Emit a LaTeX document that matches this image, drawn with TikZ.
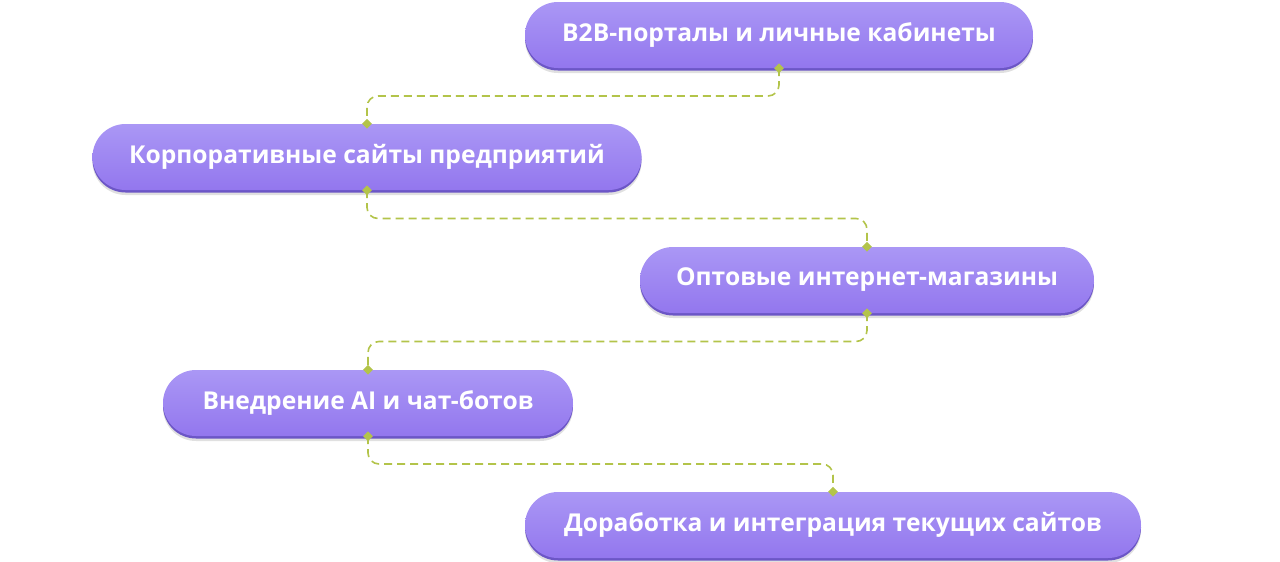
\documentclass[tikz,border=0pt]{standalone}
\usepackage{fontspec}
\setmainfont{Open Sans}
\usepackage{tikz}
\usetikzlibrary{arrows.meta,positioning,shapes.geometric,calc,shadows}
\usepackage{xcolor}
\definecolor{pilltop}{HTML}{AA97F5}
\definecolor{pillbot}{HTML}{9377EE}
\definecolor{pilledge}{HTML}{6C56C6}
\definecolor{link}{HTML}{B3C44A}

\begin{document}
\begin{tikzpicture}[x=1pt, y=-1pt,
  pill/.style={rounded corners=33pt, minimum height=66pt, inner xsep=0pt,
    top color=pilltop, bottom color=pillbot, text=white,
    font=\bfseries\fontsize{24.6}{28}\selectfont,
    drop shadow={shadow xshift=0pt, shadow yshift=-5pt, fill=black, opacity=.12},
    general shadow={shadow yshift=-2.5pt, fill=pilledge}},
  linkline/.style={draw=link, line width=1.6pt, dash pattern=on 8pt off 5pt, rounded corners=11pt},
  dot/.style={diamond, fill=link, inner sep=0pt, minimum size=10pt}]
  \useasboundingbox (0,0) rectangle (1280,562);

  % Directions
  \node[pill, minimum width=508pt] (b2b) at (779,35) {B2B-порталы и личные кабинеты};
  \node[pill, minimum width=549pt] (corp) at (367,157) {Корпоративные сайты предприятий};
  \node[pill, minimum width=454pt] (shop) at (867,280) {Оптовые интернет-магазины};
  \node[pill, minimum width=410pt] (ai) at (368,403) {Внедрение AI и чат-ботов};
  \node[pill, minimum width=616pt] (dev) at (833,525) {Доработка и интеграция текущих сайтов};

  % Links
  \draw[linkline] (b2b.south) |- ($(b2b.south)!.5!(corp.north)$) -| (corp.north);
  \draw[linkline] (corp.south) |- ($(corp.south)!.5!(shop.north)$) -| (shop.north);
  \draw[linkline] (shop.south) |- ($(shop.south)!.5!(ai.north)$) -| (ai.north);
  \draw[linkline] (ai.south) |- ($(ai.south)!.5!(dev.north)$) -| (dev.north);
  \foreach \p [count=\i] in {b2b.south, corp.north, corp.south, shop.north,
      shop.south, ai.north, ai.south, dev.north}
    \node[dot] (m\i) at (\p) {};
\end{tikzpicture}
\end{document}
